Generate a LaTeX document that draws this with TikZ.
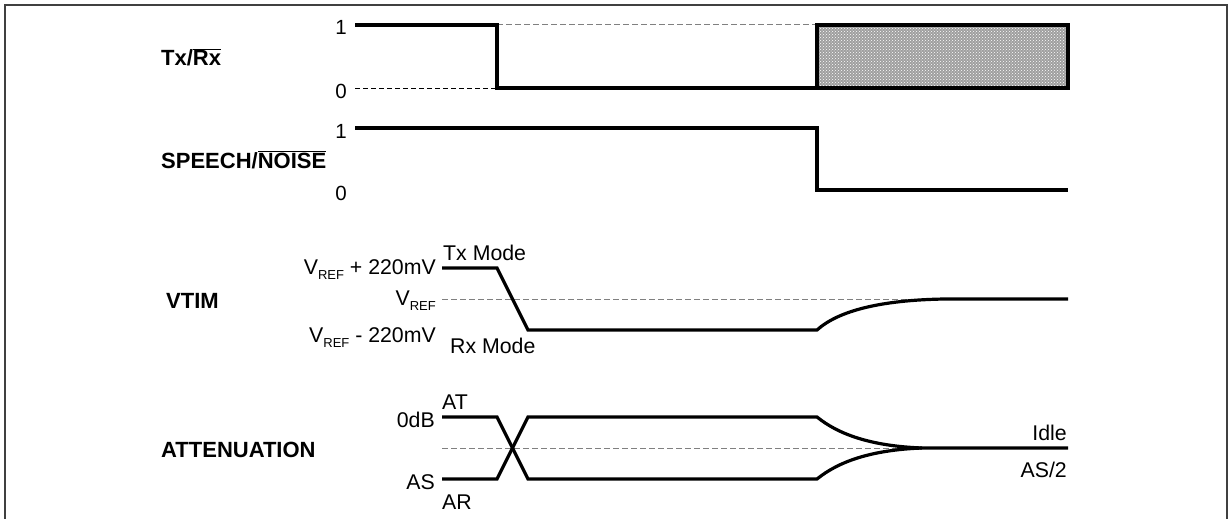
\documentclass[tikz,border=0pt]{standalone}
\usepackage{fontspec}
\setmainfont{Liberation Sans}
\usetikzlibrary{patterns}
\newcommand{\ovl}[1]{\ensuremath{\overline{\mbox{#1}}}}
\newcommand{\vref}{V\raisebox{-5pt}{\fontsize{13}{14}\selectfont REF}}
\begin{document}
\begin{tikzpicture}[x=1pt,y=-1pt,
  sig/.style={line width=3.2pt},
  refline/.style={gray, line width=1pt, dash pattern=on 6pt off 3pt},
  refblack/.style={black, line width=0.8pt, dash pattern=on 5pt off 3pt},
  lbl/.style={font=\fontsize{21.3}{24}\selectfont, inner sep=0pt},
  dig/.style={font=\fontsize{20.5}{22}\selectfont, inner sep=0pt},
  blbl/.style={font=\fontsize{22}{26}\selectfont\bfseries, inner sep=0pt},
  frame/.style={line width=2pt, black!75}]
\useasboundingbox (0,0) rectangle (1229,519);
% frame (open at bottom)
\draw[frame] (5,521) -- (5,5) -- (1227,5) -- (1227,521);

% ---------- Tx/Rx ----------
\node[blbl, anchor=base west] (txrx) at (161,66) {Tx/\ovl{Rx}};
\node[dig, anchor=base east] (t1) at (347,35) {1};
\node[dig, anchor=base east] (t0) at (347,98) {0};
\draw[refline] (497,25) -- (817,25);
\draw[refblack] (355,88) -- (497,88);
\fill[gray!75] (817,25) rectangle (1068,88);
\fill[pattern=crosshatch dots, pattern color=white] (817,25) rectangle (1068,88);
\draw[sig] (817,25) rectangle (1068,88);
\draw[sig] (355,25) -- (497,25) -- (497,88) -- (817,88);

% ---------- SPEECH/NOISE ----------
\node[blbl, anchor=base west] (spn) at (161,168) {SPEECH/\ovl{NOISE}};
\node[dig, anchor=base east] (s1) at (347,138) {1};
\node[dig, anchor=base east] (s0) at (347,200) {0};
\draw[sig] (355,128) -- (817,128) -- (817,190) -- (1068,190);

% ---------- VTIM ----------
\node[blbl, anchor=base west] (vtim) at (166,308) {VTIM};
\node[lbl, anchor=base east] (vp) at (436,274) {\vref{} + 220mV};
\node[lbl, anchor=base east] (vr) at (436,305) {\vref};
\node[lbl, anchor=base east] (vm) at (436,342) {\vref{} - 220mV};
\node[lbl, anchor=base west] (txm) at (443,260) {Tx Mode};
\node[lbl, anchor=base west] (rxm) at (450,353) {Rx Mode};
\draw[refline] (442,299) -- (940,299);
\draw[sig] (442,268) -- (497,268) -- (528,330) -- (817,330)
  .. controls (838,311) and (880,300) .. (945,299) -- (1068,299);

% ---------- ATTENUATION ----------
\node[blbl, anchor=base west] (att) at (161,457) {ATTENUATION};
\node[lbl, anchor=base east] (odb) at (435,427) {0dB};
\node[lbl, anchor=base east] (as) at (435,489) {AS};
\node[lbl, anchor=base west] (at) at (442,409) {AT};
\node[lbl, anchor=base west] (ar) at (442,509) {AR};
\node[lbl, anchor=base east] (idle) at (1067,440) {Idle};
\node[lbl, anchor=base east] (as2) at (1067,477) {AS/2};
\draw[refline] (442,448) -- (922,448);
\draw[sig] (442,417) -- (497,417) -- (528,479) -- (817,479)
  .. controls (838,462) and (870,450) .. (922,448) -- (1068,448);
\draw[sig] (442,479) -- (497,479) -- (528,417) -- (817,417)
  .. controls (838,434) and (870,446) .. (922,448);
\end{tikzpicture}
\end{document}
